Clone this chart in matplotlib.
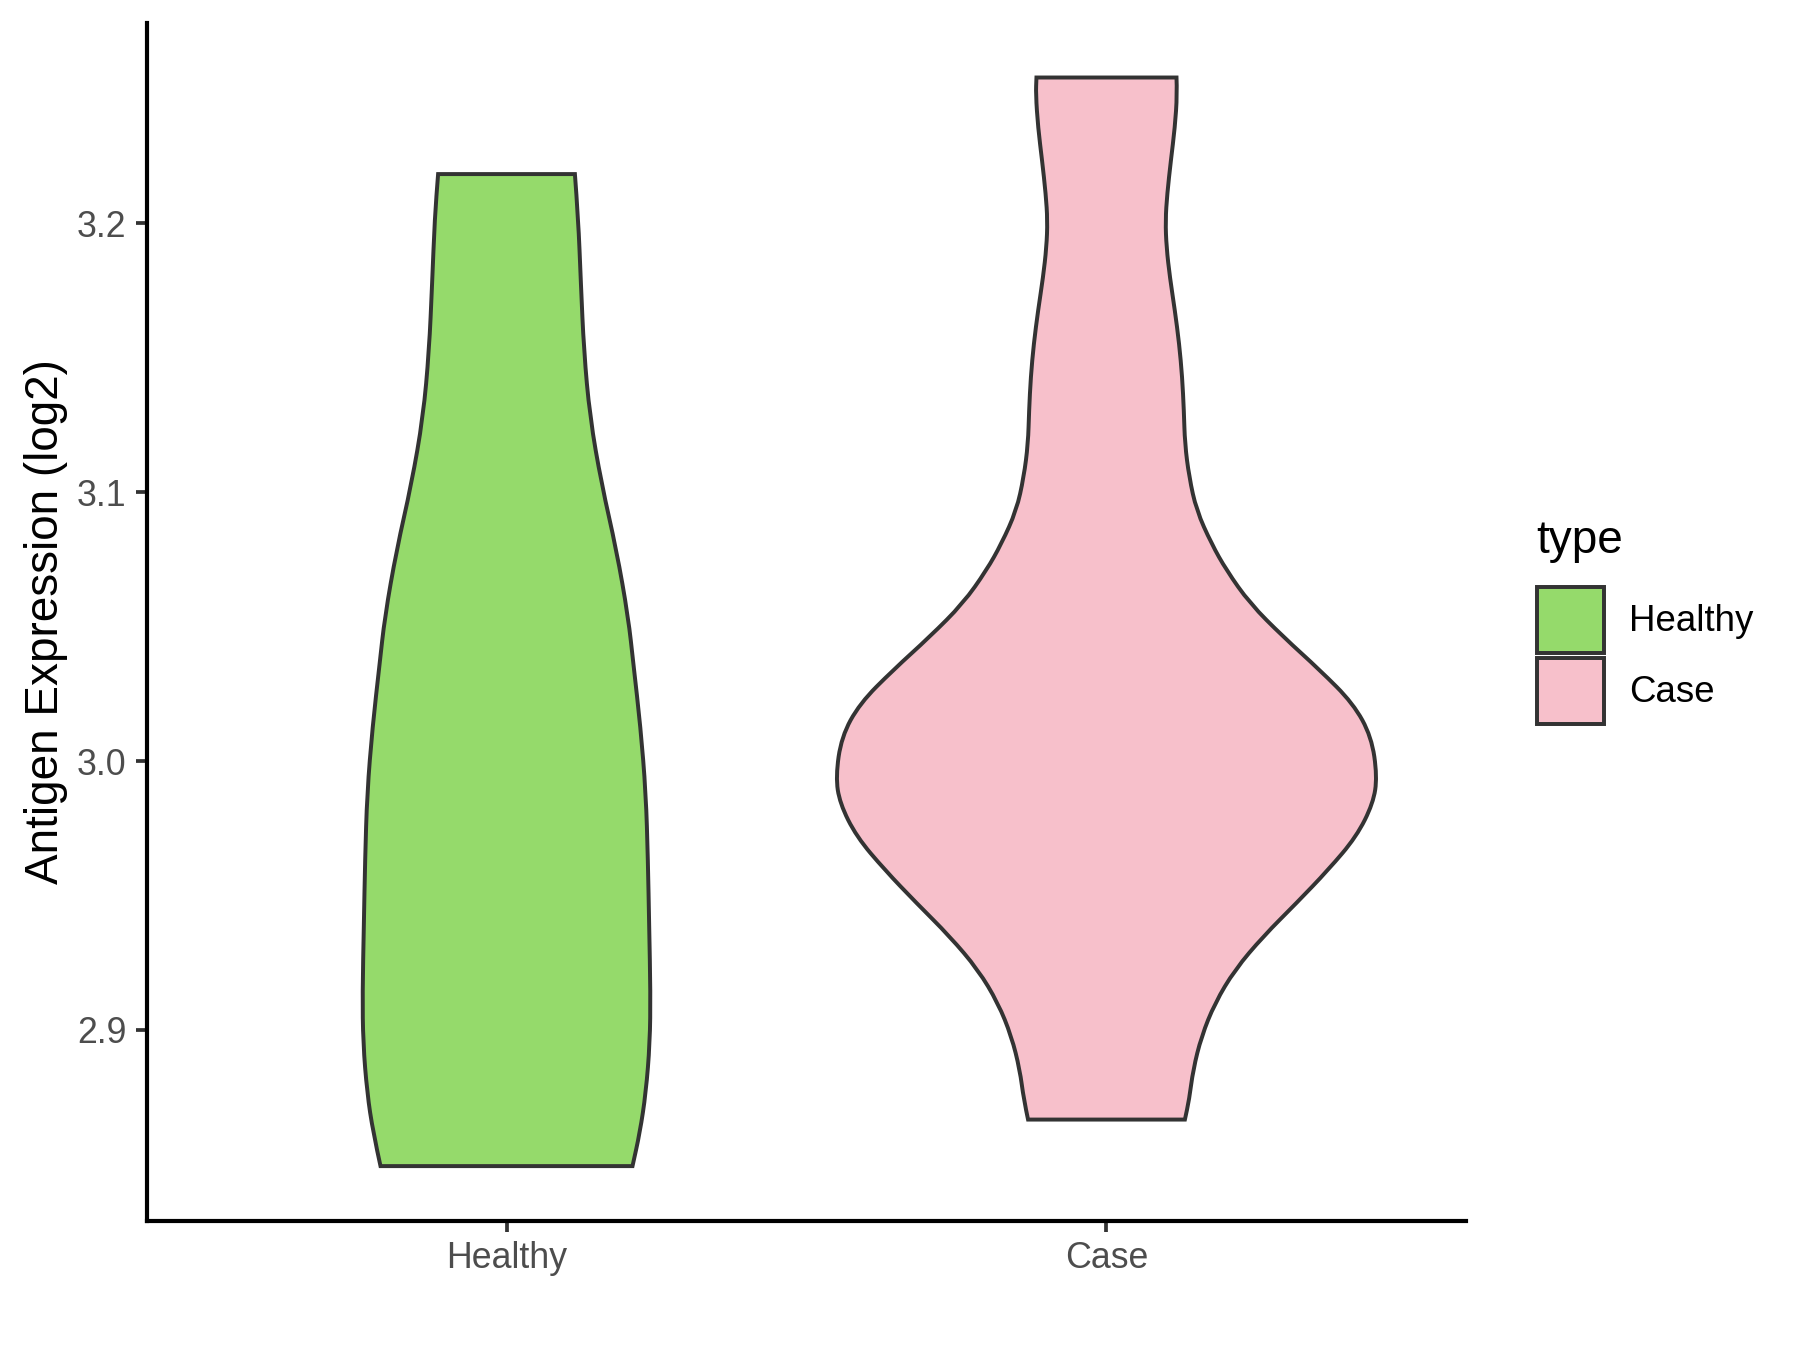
import numpy as np
import matplotlib
matplotlib.use("Agg")
import matplotlib.pyplot as plt
from matplotlib.patches import Patch, PathPatch
from matplotlib.path import Path

plt.rcParams['font.family'] = ['Liberation Sans', 'DejaVu Sans']

groups = ['Healthy', 'Case']
colors = ['#95DA6B', '#F7C0CB']

# violin outlines: value (log2) and half-width (x units)
healthy_y = [3.2182, 3.2021, 3.1774, 3.1526, 3.1279, 3.1031, 3.0784, 3.0536,
             3.0357, 3.0127, 2.9880, 2.9632, 2.9385, 2.9137, 2.8953, 2.8767,
             2.8619, 2.8494]
healthy_w = [0.1140, 0.1195, 0.1240, 0.1290, 0.1390, 0.1583, 0.1833, 0.2028,
             0.2117, 0.2233, 0.2323, 0.2357, 0.2378, 0.2400, 0.2390, 0.2323,
             0.2223, 0.2100]

case_y = [3.2541, 3.2479, 3.2355, 3.2232, 3.2108, 3.2009, 3.1910, 3.1798,
          3.1675, 3.1551, 3.1427, 3.1303, 3.1180, 3.1056, 3.0932, 3.0808,
          3.0709, 3.0586, 3.0462, 3.0338, 3.0214, 3.0090, 2.9942, 2.9843,
          2.9719, 2.9595, 2.9472, 2.9348, 2.9224, 2.9100, 2.8976, 2.8853,
          2.8741, 2.8667]
case_w = [0.1167, 0.1178, 0.1140, 0.1073, 0.1012, 0.0983, 0.1000, 0.1057,
          0.1140, 0.1212, 0.1262, 0.1290, 0.1307, 0.1378, 0.1500, 0.1750,
          0.2000, 0.2390, 0.2945, 0.3557, 0.4112, 0.4417, 0.4512, 0.4445,
          0.4167, 0.3695, 0.3167, 0.2612, 0.2140, 0.1807, 0.1583, 0.1445,
          0.1378, 0.1307]

yticks = [2.9, 3.0, 3.1, 3.2]


def side_path(pts):
    # smooth side: read points used as quadratic control points
    verts = [pts[0]]
    codes = [Path.LINETO]
    for i in range(1, len(pts) - 1):
        mid = (pts[i] + pts[i + 1]) / 2
        verts += [pts[i], mid]
        codes += [Path.CURVE3, Path.CURVE3]
    verts.append(pts[-1])
    codes.append(Path.LINETO)
    return verts, codes


def violin_path(pos, yy, ww):
    yy = np.array(yy)
    ww = np.array(ww)
    right = np.column_stack([pos + ww, yy])
    left = np.column_stack([pos - ww, yy])[::-1]
    v1, c1 = side_path(right)
    v2, c2 = side_path(left)
    verts = [left[-1]] + v1 + v2 + [left[-1]]
    codes = [Path.MOVETO] + c1 + c2 + [Path.CLOSEPOLY]
    return Path(verts, codes)


fig = plt.figure(figsize=(6, 4.5), dpi=300)
ax = fig.add_axes([0.0814, 0.0959, 0.7333, 0.887])

profiles = [(healthy_y, healthy_w), (case_y, case_w)]
for i, (yy, ww) in enumerate(profiles):
    p = violin_path(i + 1, yy, ww)
    ax.add_patch(PathPatch(p, facecolor=colors[i], edgecolor='#333333',
                           linewidth=0.95, joinstyle='miter'))

all_y = healthy_y + case_y
lo, hi = min(all_y), max(all_y)
pad = 0.05 * (hi - lo)
ax.set_ylim(lo - pad, hi + pad)
ax.set_xlim(0.4, 2.6)

ax.set_xticks([1, 2])
ax.set_xticklabels(groups)
ax.set_yticks(yticks)
ax.set_yticklabels([f'{t:.1f}' for t in yticks])
ax.tick_params(axis='both', length=2.64, width=0.9, color='#333333',
               labelcolor='#4D4D4D', labelsize=8.6, pad=2.2)

for s in ['top', 'right']:
    ax.spines[s].set_visible(False)
for s in ['left', 'bottom']:
    ax.spines[s].set_linewidth(1.0)
    ax.spines[s].set_color('black')

ax.set_ylabel('Antigen Expression (log2)', fontsize=11, color='black', labelpad=2.1)

handles = [Patch(facecolor=c, edgecolor='#333333', linewidth=0.95) for c in colors]
leg = fig.legend(handles, groups, loc='center left',
                 bbox_to_anchor=(0.854, 0.5145), frameon=False, fontsize=8.8,
                 handlelength=1.815, handleheight=2.365,
                 labelspacing=0.155, handletextpad=0.69, borderpad=0,
                 borderaxespad=0)
fig.text(0.8534, 0.5995, 'type', fontsize=11, ha='left', va='center')

fig.savefig('out.png', dpi=300, facecolor='white')
